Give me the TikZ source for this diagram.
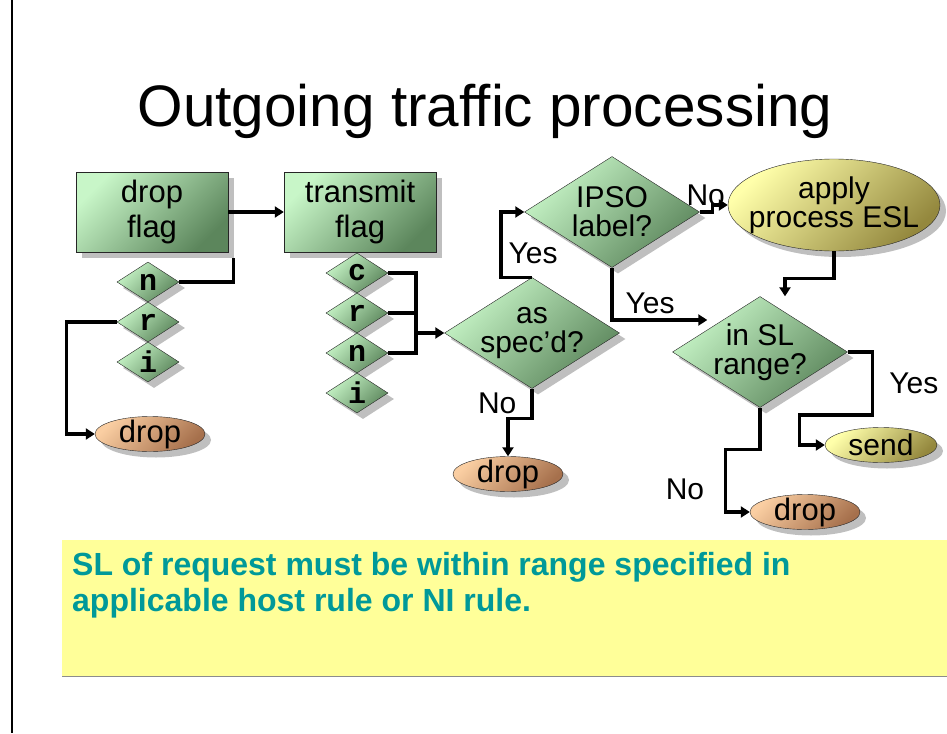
\documentclass[tikz,border=0pt]{standalone}
\usepackage{fontspec}
\setmainfont{Liberation Sans}
\setmonofont{Liberation Mono}
\usepackage{tikz}
\usetikzlibrary{arrows.meta, positioning, calc, shapes.geometric, shadows}
\definecolor{tfGreenLt}{RGB}{200,246,200}
\definecolor{tfGreenDk}{RGB}{92,134,92}
\definecolor{tfTanLt}{RGB}{250,206,162}
\definecolor{tfTanDk}{RGB}{166,112,76}
\definecolor{tfYelLt}{RGB}{255,255,170}
\definecolor{tfYelDk}{RGB}{148,136,62}
\definecolor{tfNote}{RGB}{255,255,153}
\definecolor{tfTeal}{RGB}{0,153,153}
\tikzset{
  tfshadow/.style={drop shadow={shadow xshift=6pt, shadow yshift=-6pt, opacity=.5}},
  greenfill/.style={draw=black!85, top color=tfGreenLt, bottom color=tfGreenDk, shading angle=45},
  flagbox/.style={greenfill, tfshadow, minimum width=152pt, minimum height=80pt,
                  inner sep=0pt, align=center, font=\fontsize{31}{35}\selectfont},
  bigdiam/.style={diamond, greenfill, tfshadow, aspect=1.6, minimum width=175pt,
                  minimum height=111pt, inner xsep=-12pt, inner ysep=-10pt,
                  align=center, font=\fontsize{30}{29}\selectfont},
  flagdiam/.style={diamond, greenfill, tfshadow, aspect=1.5, minimum width=62pt,
                   minimum height=40pt, inner sep=0pt, font=\ttfamily\bfseries\fontsize{30}{30}\selectfont},
  dropoval/.style={ellipse, draw=black!85, top color=tfTanLt, bottom color=tfTanDk, shading angle=45,
                   tfshadow, minimum width=110pt, minimum height=35pt, inner xsep=0pt,
                   inner ysep=-5pt, font=\fontsize{31}{31}\selectfont},
  yeloval/.style={ellipse, draw=black!85, top color=tfYelLt, bottom color=tfYelDk, shading angle=45,
                  tfshadow, inner xsep=-25pt, inner ysep=-5pt, align=center,
                  font=\fontsize{30}{29}\selectfont},
  lbl/.style={inner sep=0pt, font=\fontsize{30}{30}\selectfont},
  link/.style={line width=3.3pt},
  flow/.style={link, -{Triangle[length=9pt,width=11pt]}}
}
\begin{document}
\begin{tikzpicture}[x=1pt, y=-1pt]
\useasboundingbox (0,0) rectangle (947,733);
\draw[line width=1.2pt] (12,0) -- (12,733);

\node[anchor=base, inner sep=0pt, font=\fontsize{58.5}{60}\selectfont] (ttl) at (485,127)
     {Outgoing traffic processing};

% flag boxes and their flag diamonds
\node[flagbox] (dflag) at (152,212) {drop\\flag};
\node[flagbox] (tflag) at (360,212) {transmit\\flag};

\foreach \lbl [count=\i] in {n,r,i}
  \node[flagdiam] (d\lbl) at (148,242+40*\i) {\lbl};
\foreach \lbl [count=\i] in {c,r,n,i}
  \node[flagdiam] (t\lbl) at (357,233+40*\i) {\lbl};

% decisions
\node[bigdiam] (spec) at (532,333) {as\\spec'd?};
\node[bigdiam] (ipso) at (612,212) {IPSO\\label?};
\node[bigdiam] (slr) at (760,352) {in SL\\range?};

% outcomes
\node[dropoval] (ddrop) at (150,434) {drop};
\node[dropoval] (sdrop) at (508,474) {drop};
\node[dropoval] (xdrop) at (805,512) {drop};
\node[yeloval, minimum width=212pt, minimum height=92pt] (esl) at (834,205) {apply\\process ESL};
\node[yeloval, minimum width=112pt, minimum height=35pt] (send) at (881,445) {send};

% connectors
\draw[flow] (dflag.east) -- (tflag.west);
\draw[link] (dn.east) -| ($(dflag.south east)+(5,6)$);
\draw[flow] (dr.west) -- ++(-50,0) |- (ddrop.west);

\coordinate (tbus) at (416,333);
\foreach \lbl in {c,r,n}
  \draw[link] (t\lbl.east) -| (tbus);
\draw[flow] (tbus) -- (spec.west);

\draw[flow] (spec.north) -- ++(-31,0) |- node[lbl, pos=0.18, right=6pt] {Yes} (ipso.west);
\draw[flow] (spec.south) -- node[lbl, left=14pt] {No} ++(0,30) -| (sdrop.north);
\draw[flow] (ipso.south) |- node[lbl, pos=0.7, above=5pt] {Yes} ($(slr.west)+(35,-32)$);
\draw[flow] (ipso.east) -- ++(13,0) node[lbl, above=5pt, xshift=-7pt] {No} |- (esl.west);
\draw[flow] (esl.south) -- ++(0,27) -| ($(slr.north)+(25,0)$);
\draw[flow] (slr.east) -- ++(25,0) |- node[lbl, pos=0.25, right=15pt] {Yes}
      ($(send.west)+(-25,-30)$) |- (send.west);
\draw[flow] (slr.south) -- ++(0,42) -| node[lbl, pos=0.82, left=20pt] {No}
      ($(xdrop.west)+(-24,0)$) -- (xdrop.west);

% note
\fill[tfNote] (62,540) rectangle (947,676);
\draw[black!45] (62,676) -- (947,676);
\node[anchor=north west, inner sep=0pt, align=left, text=tfTeal,
      font=\bfseries\fontsize{32}{36}\selectfont] (note) at (72,552)
     {SL of request must be within range specified in\\applicable host rule or NI rule.};
\end{tikzpicture}
\end{document}
